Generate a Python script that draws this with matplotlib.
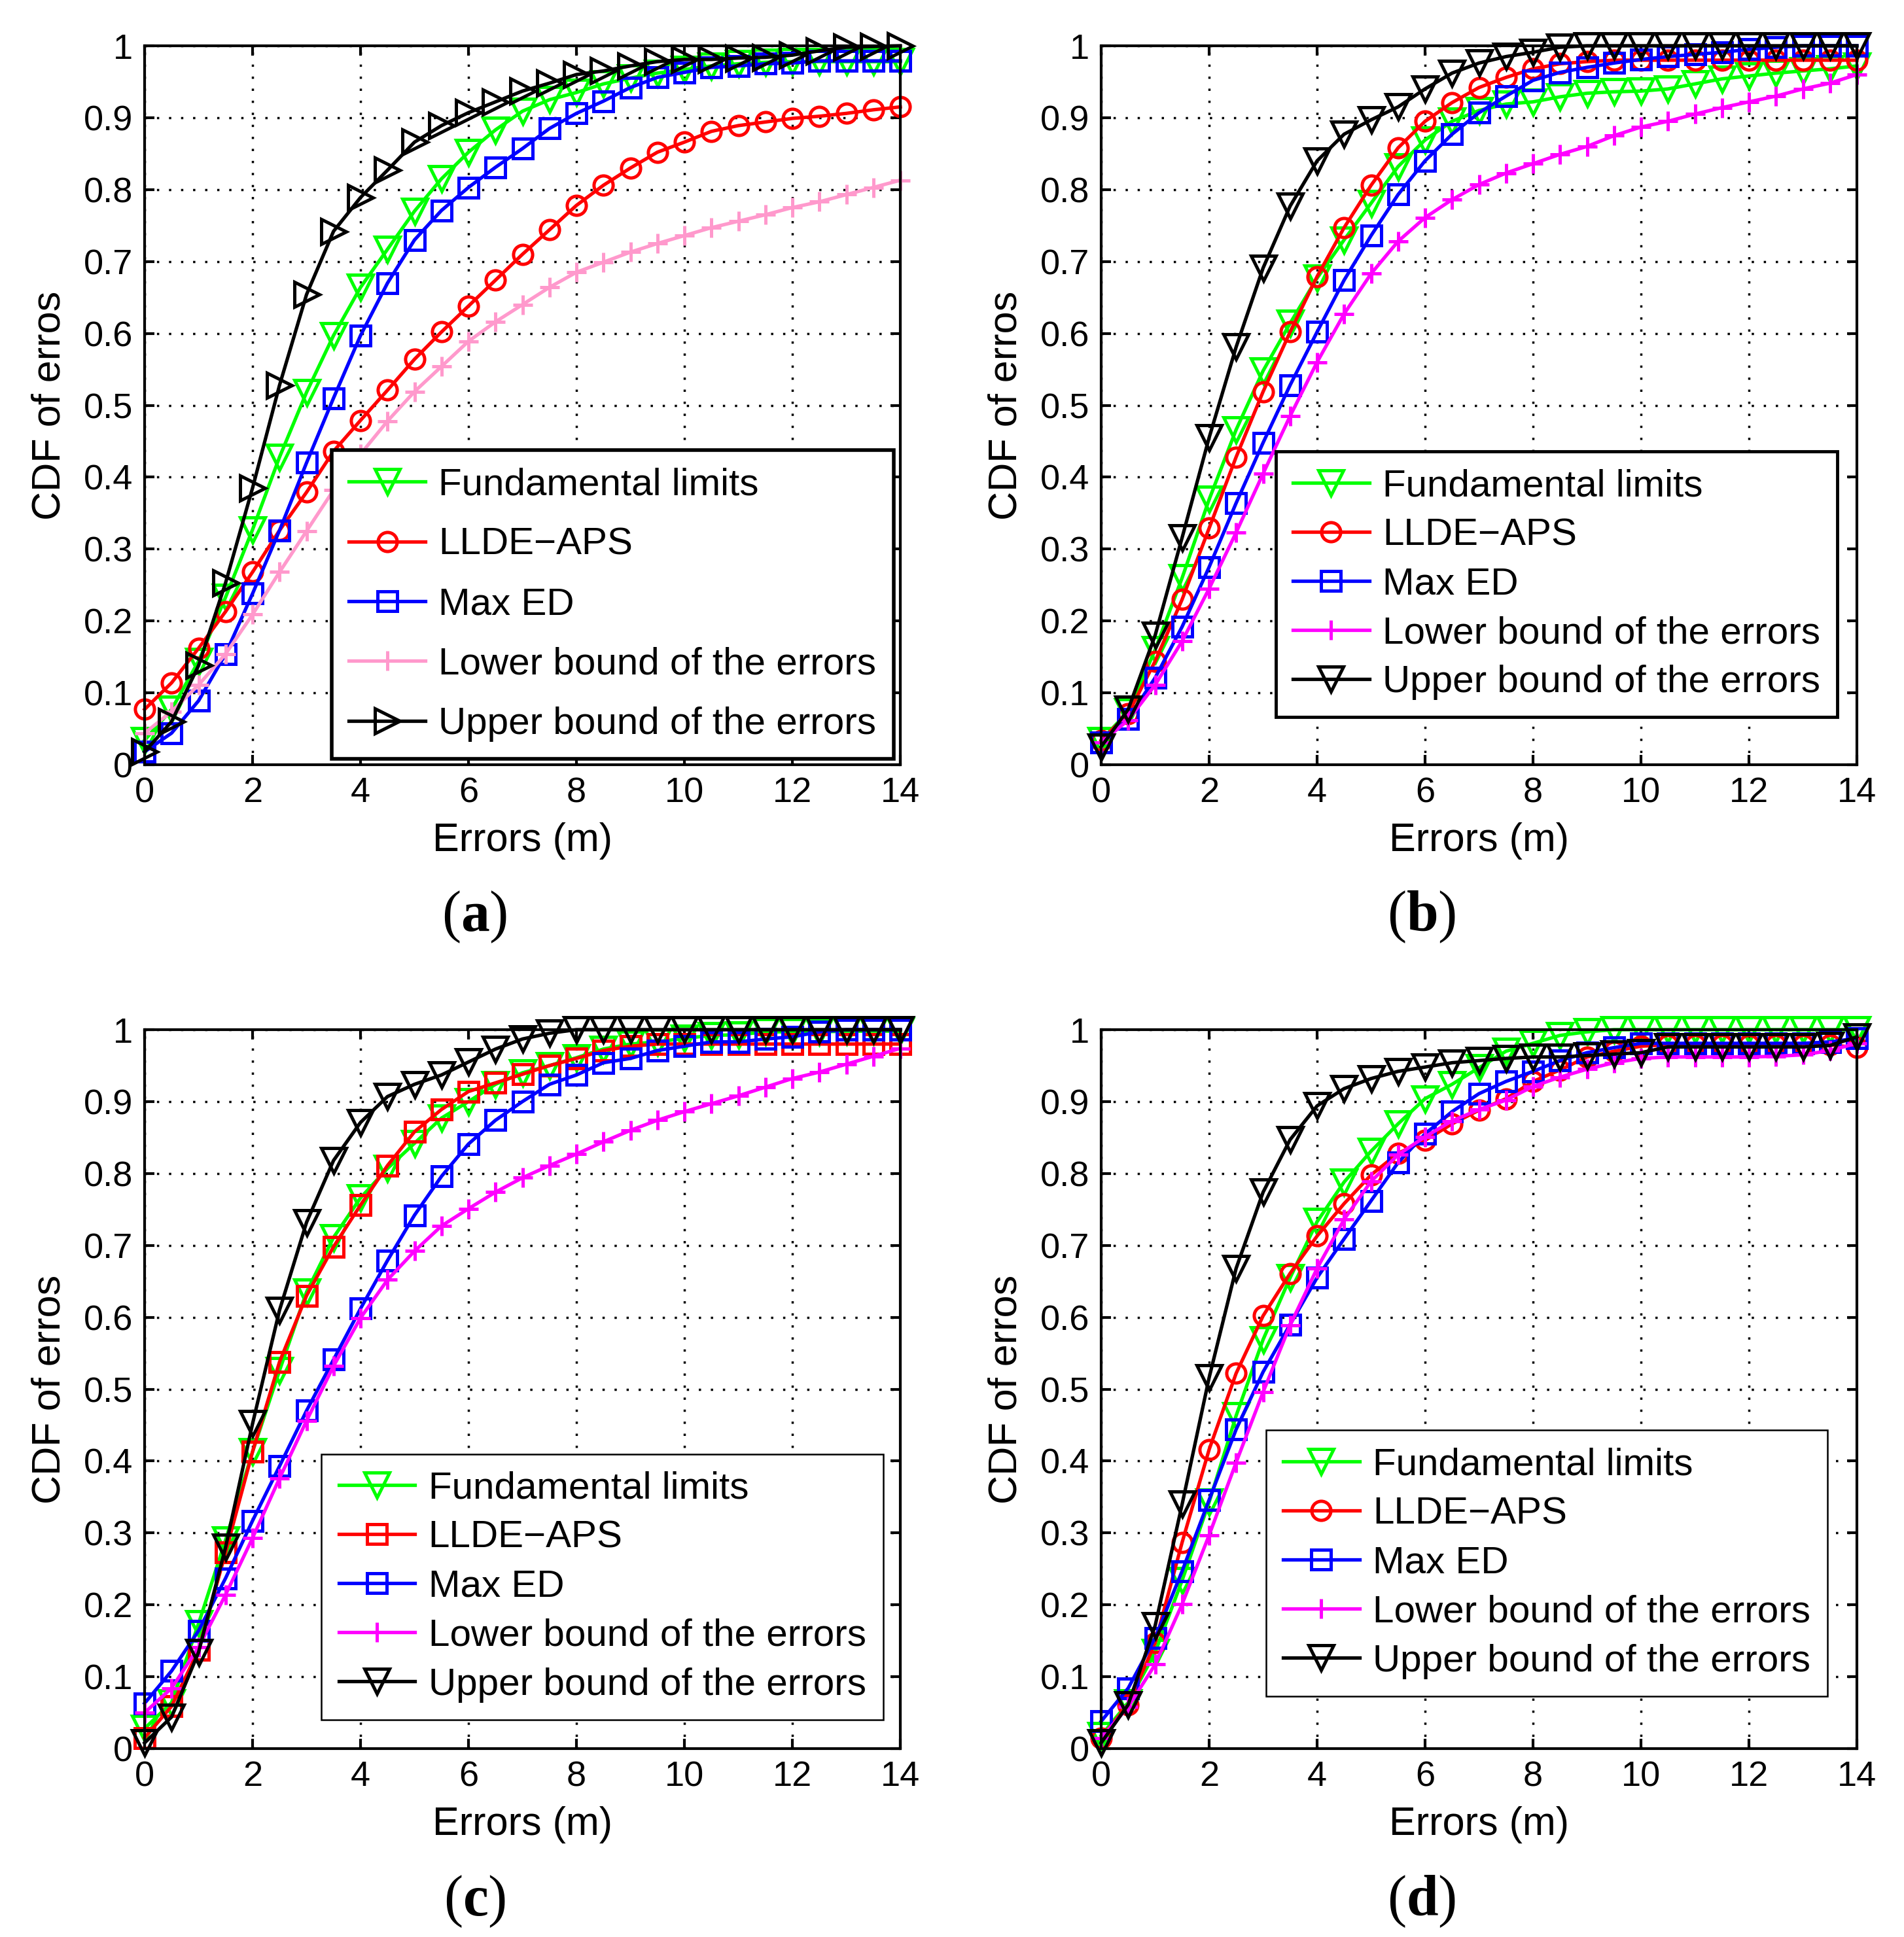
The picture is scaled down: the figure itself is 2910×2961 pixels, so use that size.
import numpy as np
import matplotlib
matplotlib.use('Agg')
import matplotlib.pyplot as plt

plt.rcParams['font.family'] = ['Liberation Sans', 'DejaVu Sans']
plt.rcParams['mathtext.fontset'] = 'custom'
plt.rcParams['mathtext.rm'] = 'Liberation Serif'
plt.rcParams['mathtext.bf'] = 'Liberation Serif:bold'

# x positions of the markers (m)
errors = [0, 0.5, 1, 1.5, 2, 2.5, 3, 3.5, 4, 4.5, 5, 5.5, 6, 6.5, 7,
          7.5, 8, 8.5, 9, 9.5, 10, 10.5, 11, 11.5, 12, 12.5, 13, 13.5, 14]

labels = ['Fundamental limits', 'LLDE\u2212APS', 'Max ED',
          'Lower bound of the errors', 'Upper bound of the errors']

# panel (a)
a_fund = [0.034, 0.077, 0.144, 0.233, 0.327, 0.428, 0.518, 0.597, 0.664, 0.717, 0.770, 0.815, 0.852, 0.883, 0.909,
          0.925, 0.935, 0.947, 0.955, 0.962, 0.967, 0.972, 0.975, 0.977, 0.978, 0.978, 0.978, 0.978, 0.978]
a_llde = [0.077, 0.114, 0.162, 0.213, 0.268, 0.326, 0.379, 0.436, 0.479, 0.521, 0.564, 0.602, 0.638, 0.674, 0.710,
          0.744, 0.778, 0.806, 0.830, 0.852, 0.866, 0.881, 0.889, 0.894, 0.899, 0.902, 0.906, 0.911, 0.915]
a_maxed = [0.018, 0.044, 0.089, 0.154, 0.238, 0.326, 0.420, 0.510, 0.597, 0.670, 0.730, 0.771, 0.803, 0.831, 0.857,
           0.885, 0.906, 0.923, 0.942, 0.956, 0.963, 0.970, 0.972, 0.975, 0.976, 0.979, 0.979, 0.979, 0.979]
a_lower = [0.044, 0.074, 0.111, 0.154, 0.209, 0.268, 0.325, 0.382, 0.432, 0.478, 0.519, 0.554, 0.589, 0.616, 0.640,
           0.664, 0.685, 0.699, 0.713, 0.725, 0.736, 0.747, 0.756, 0.765, 0.775, 0.783, 0.793, 0.803, 0.813]
a_upper = [0.018, 0.060, 0.138, 0.253, 0.385, 0.528, 0.654, 0.742, 0.789, 0.827, 0.866, 0.889, 0.907, 0.922, 0.937,
           0.948, 0.960, 0.965, 0.972, 0.978, 0.981, 0.981, 0.983, 0.984, 0.987, 0.993, 0.998, 0.999, 1.000]

# panel (b)
b_fund = [0.034, 0.074, 0.160, 0.260, 0.369, 0.466, 0.548, 0.614, 0.677, 0.730, 0.781, 0.832, 0.869, 0.895, 0.910,
          0.919, 0.922, 0.929, 0.934, 0.936, 0.937, 0.940, 0.947, 0.954, 0.958, 0.962, 0.965, 0.968, 0.972]
b_llde = [0.034, 0.071, 0.144, 0.230, 0.329, 0.428, 0.519, 0.602, 0.679, 0.747, 0.806, 0.858, 0.895, 0.921, 0.942,
          0.956, 0.968, 0.975, 0.978, 0.980, 0.980, 0.980, 0.980, 0.980, 0.980, 0.980, 0.980, 0.980, 0.980]
b_maxed = [0.031, 0.064, 0.121, 0.192, 0.275, 0.364, 0.448, 0.528, 0.602, 0.674, 0.736, 0.793, 0.840, 0.877, 0.907,
           0.930, 0.952, 0.963, 0.970, 0.976, 0.981, 0.985, 0.988, 0.991, 0.995, 0.998, 1.000, 1.000, 1.000]
b_lower = [0.031, 0.062, 0.111, 0.172, 0.245, 0.323, 0.405, 0.485, 0.560, 0.627, 0.683, 0.728, 0.761, 0.786, 0.807,
           0.823, 0.836, 0.849, 0.860, 0.875, 0.887, 0.895, 0.905, 0.914, 0.922, 0.930, 0.940, 0.948, 0.960]
b_upper = [0.025, 0.077, 0.180, 0.316, 0.455, 0.581, 0.691, 0.777, 0.840, 0.877, 0.897, 0.915, 0.940, 0.962, 0.976,
           0.985, 0.991, 0.998, 1.000, 1.000, 1.000, 1.000, 1.000, 1.000, 1.000, 1.000, 1.000, 1.000, 1.000]

# panel (c)
c_fund = [0.028, 0.064, 0.174, 0.290, 0.413, 0.526, 0.635, 0.711, 0.766, 0.807, 0.842, 0.877, 0.900, 0.924, 0.940,
          0.950, 0.961, 0.973, 0.980, 0.983, 0.988, 0.992, 0.993, 0.997, 0.997, 0.997, 0.998, 0.998, 0.998]
c_llde = [0.015, 0.059, 0.137, 0.273, 0.413, 0.538, 0.630, 0.698, 0.756, 0.811, 0.858, 0.889, 0.914, 0.926, 0.938,
          0.950, 0.960, 0.971, 0.977, 0.980, 0.980, 0.980, 0.980, 0.980, 0.980, 0.980, 0.980, 0.980, 0.980]
c_maxed = [0.063, 0.108, 0.164, 0.237, 0.317, 0.393, 0.470, 0.541, 0.612, 0.679, 0.742, 0.796, 0.841, 0.874, 0.900,
           0.924, 0.937, 0.954, 0.960, 0.971, 0.977, 0.983, 0.983, 0.987, 0.990, 0.997, 1.000, 1.000, 1.000]
c_lower = [0.050, 0.084, 0.141, 0.214, 0.293, 0.376, 0.456, 0.532, 0.599, 0.652, 0.692, 0.727, 0.751, 0.774, 0.794,
           0.811, 0.827, 0.844, 0.860, 0.874, 0.886, 0.897, 0.908, 0.920, 0.932, 0.941, 0.952, 0.963, 0.974]
c_upper = [0.008, 0.044, 0.134, 0.280, 0.452, 0.610, 0.732, 0.818, 0.871, 0.907, 0.924, 0.937, 0.955, 0.973, 0.987,
           0.995, 1.000, 1.000, 1.000, 1.000, 1.000, 1.000, 1.000, 1.000, 1.000, 1.000, 1.000, 1.000, 1.000]

# panel (d)
d_fund = [0.018, 0.064, 0.134, 0.234, 0.343, 0.463, 0.569, 0.655, 0.733, 0.788, 0.831, 0.869, 0.904, 0.924, 0.947,
          0.970, 0.981, 0.992, 0.997, 1.000, 1.000, 1.000, 1.000, 1.000, 1.000, 1.000, 1.000, 1.000, 1.000]
d_llde = [0.015, 0.061, 0.147, 0.287, 0.416, 0.522, 0.602, 0.661, 0.713, 0.758, 0.798, 0.828, 0.846, 0.869, 0.888,
          0.904, 0.928, 0.944, 0.962, 0.970, 0.977, 0.979, 0.979, 0.979, 0.979, 0.979, 0.979, 0.979, 0.975]
d_maxed = [0.038, 0.084, 0.154, 0.247, 0.346, 0.444, 0.524, 0.590, 0.655, 0.709, 0.762, 0.815, 0.855, 0.886, 0.911,
           0.928, 0.942, 0.957, 0.968, 0.975, 0.981, 0.981, 0.981, 0.981, 0.981, 0.981, 0.981, 0.983, 0.988]
d_lower = [0.015, 0.058, 0.117, 0.201, 0.297, 0.398, 0.496, 0.589, 0.668, 0.736, 0.789, 0.826, 0.851, 0.873, 0.889,
           0.902, 0.921, 0.934, 0.945, 0.954, 0.960, 0.962, 0.962, 0.962, 0.962, 0.963, 0.965, 0.971, 0.981]
d_upper = [0.008, 0.061, 0.171, 0.340, 0.516, 0.668, 0.774, 0.847, 0.894, 0.918, 0.932, 0.942, 0.948, 0.954, 0.957,
           0.960, 0.962, 0.962, 0.964, 0.966, 0.968, 0.976, 0.976, 0.976, 0.976, 0.976, 0.976, 0.978, 0.990]

xticks = [0, 2, 4, 6, 8, 10, 12, 14]
yticks = [0, 0.1, 0.2, 0.3, 0.4, 0.5, 0.6, 0.7, 0.8, 0.9, 1]
ytick_labels = ['0', '0.1', '0.2', '0.3', '0.4', '0.5', '0.6', '0.7', '0.8', '0.9', '1']

W, H = 2910, 2961
fig = plt.figure(figsize=(W / 100, H / 100), dpi=100)


def draw_panel(rect, series, colors, markers, leg_xy, leg_space, leg_lw, tag, tag_xy):
    ax = fig.add_axes(rect)
    for ys, c, m, lab in zip(series, colors, markers, labels):
        ms = {'v': 27, '>': 27, 'o': 21, 's': 21, '+': 22}[m]
        ax.plot(errors, ys, color=c, marker=m, markersize=ms, markerfacecolor='none',
                markeredgecolor=c, markeredgewidth=3.6, linewidth=3.8, label=lab, clip_on=False)
    ax.set_xlim(0, 14)
    ax.set_ylim(0, 1)
    ax.set_xticks(xticks)
    ax.set_yticks(yticks)
    ax.set_yticklabels(ytick_labels)
    ax.grid(True, color='black', linestyle=(0, (1, 4.3)), linewidth=2.5)
    ax.tick_params(direction='in', length=11, width=3, labelsize=39, pad=13,
                   top=True, right=True)
    for s in ax.spines.values():
        s.set_linewidth(3)
    ax.set_xlabel('Errors (m)', fontsize=44)
    ax.set_ylabel('CDF of erros', fontsize=44)
    ax.xaxis.set_label_coords(0.5, -0.080)
    ax.yaxis.set_label_coords(-0.101, 0.5)
    leg = ax.legend(loc='lower left', bbox_to_anchor=leg_xy, borderaxespad=0,
                    fontsize=42, handlelength=2.0, handletextpad=0.35,
                    labelspacing=leg_space, borderpad=0.45, fancybox=False,
                    framealpha=1, edgecolor='black')
    leg.get_frame().set_linewidth(leg_lw)
    fig.text(tag_xy[0], tag_xy[1], '(' + r'$\mathbf{' + tag + '}$' + ')',
             fontsize=63, family='Liberation Serif', ha='center', va='baseline')
    return ax


left_a, left_b = 221 / W, 1683 / W
aw = 1155 / W
ah = 1099 / H
bot_top, bot_low = (H - 1169) / H, (H - 2673) / H

cols_a = ['#00FF00', '#FF0000', '#0000FF', '#FF99CC', 'black']
cols = ['#00FF00', '#FF0000', '#0000FF', '#FF00FF', 'black']

draw_panel([left_a, bot_top, aw, ah], [a_fund, a_llde, a_maxed, a_lower, a_upper],
           cols_a, ['v', 'o', 's', '+', '>'], (0.2476, 0.008), 0.64, 4, 'a', (0.2493, 0.5194))
draw_panel([left_b, bot_top, aw, ah], [b_fund, b_llde, b_maxed, b_lower, b_upper],
           cols, ['v', 'o', 's', '+', 'v'], (0.231, 0.066), 0.36, 3.5, 'b', (0.7465, 0.5194))
draw_panel([left_a, bot_low, aw, ah], [c_fund, c_llde, c_maxed, c_lower, c_upper],
           cols, ['v', 's', 's', '+', 'v'], (0.234, 0.040), 0.36, 1.8, 'c', (0.2493, 0.0112))
draw_panel([left_b, bot_low, aw, ah], [d_fund, d_llde, d_maxed, d_lower, d_upper],
           cols, ['v', 'o', 's', '+', 'v'], (0.218, 0.073), 0.36, 1.8, 'd', (0.7465, 0.0112))

fig.savefig('out.png', dpi=100)
